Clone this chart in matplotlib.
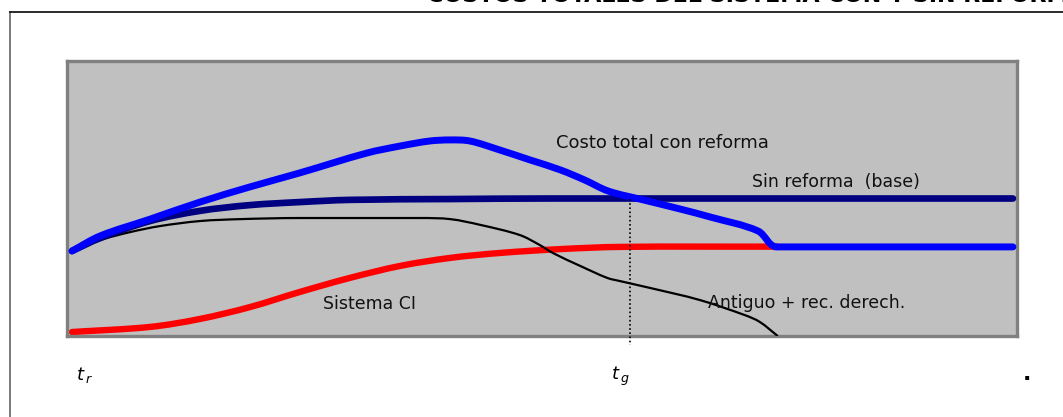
import numpy as np
import matplotlib.pyplot as plt
from matplotlib.lines import Line2D
from matplotlib.path import Path
from matplotlib.patches import PathPatch

# time axis runs from t_r (0) to the end of the horizon (100)
t_blue = [0, 3.0, 8.3, 13.6, 18.9, 24.2, 31.3, 34.9, 38.0, 40.2, 42.3, 45.5,
          48.7, 51.9, 54.5, 57.0, 60.7, 64.6, 67.8, 72.9, 74.9, 100]
costo_reforma = [30.9, 36.4, 42.5, 48.7, 54.2, 59.3, 66.5, 69.1, 70.9, 71.3, 70.9, 67.6,
                 64.0, 60.4, 56.7, 52.7, 49.5, 46.2, 43.3, 38.2, 32.4, 32.4]

t_navy = [0, 3.0, 8.3, 13.6, 18.9, 24.2, 29.5, 40.2, 50.8, 100]
sin_reforma = [30.9, 35.6, 41.8, 45.5, 47.6, 48.7, 49.5, 49.8, 50.0, 50.0]

t_black = [0, 3.0, 6.2, 9.4, 13.6, 17.9, 24.2, 37.0, 40.2, 43.4, 47.6, 49.7,
           51.1, 54.0, 56.9, 58.2, 61.4, 66.7, 71.5, 73.1, 75.0]
antiguo = [30.9, 34.9, 37.8, 40.0, 41.8, 42.5, 42.9, 42.9, 42.5, 40.4, 36.7, 33.1,
           30.2, 25.5, 21.1, 20.0, 17.5, 13.1, 7.6, 5.1, 0.0]

t_red = [0, 8.3, 13.6, 18.9, 24.2, 29.5, 34.9, 40.2, 45.5, 51.9, 58.2, 74.9]
sistema_ci = [1.45, 3.3, 6.2, 10.5, 16.0, 21.1, 25.5, 28.4, 30.2, 31.6, 32.4, 32.5]

t_g = 59.3
titulo = "COSTOS TOTALES DEL SISTEMA CON Y SIN REFORMA"

# pixels per data unit, used so the smoothing works in screen proportions
SX, SY = 9.41, 2.75


def smooth_path(x, y):
    # cubic bezier through every point, tangents scaled by segment length;
    # points next to a flat stretch keep a horizontal tangent
    p = np.column_stack([np.asarray(x) * SX, np.asarray(y) * SY]).astype(float)
    n = len(p)
    d = np.zeros_like(p)
    for i in range(n):
        flat = (i + 1 < n and y[i + 1] == y[i]) or (i > 0 and y[i - 1] == y[i])
        if flat:
            d[i] = [1.0, 0.0]
            continue
        v = p[min(i + 1, n - 1)] - p[max(i - 1, 0)]
        d[i] = v / np.hypot(*v)
    verts = [p[0]]
    codes = [Path.MOVETO]
    for i in range(n - 1):
        L = np.hypot(*(p[i + 1] - p[i]))
        verts += [p[i] + d[i] * L / 3, p[i + 1] - d[i + 1] * L / 3, p[i + 1]]
        codes += [Path.CURVE4] * 3
    verts = np.array(verts) / [SX, SY]
    return Path(verts, codes)


def draw(ax, x, y, color, lw, z, cap="round"):
    patch = PathPatch(smooth_path(x, y), facecolor="none", edgecolor=color, lw=lw,
                      capstyle=cap, joinstyle="round", zorder=z)
    ax.add_patch(patch)


W, H = 1063, 417
fig = plt.figure(figsize=(W / 100, H / 100), dpi=100)
ax = fig.add_axes([67 / W, (H - 336) / H, 950 / W, 275 / H])
ax.set_facecolor("#C0C0C0")
ax.set_xlim(-0.53, 100.43)
ax.set_ylim(0, 100)
ax.set_xticks([])
ax.set_yticks([])
for s in ax.spines.values():
    s.set_color("#808080")
    s.set_linewidth(2.4)

draw(ax, t_red, sistema_ci, "#FF0000", 4.6, 2)
draw(ax, t_black, antiguo, "black", 1.6, 3, cap="butt")
draw(ax, t_navy, sin_reforma, "#000080", 4.8, 4)
draw(ax, t_blue, costo_reforma, "#0000FF", 5.0, 5)

# vertical marker at t_g
ax.plot([t_g, t_g], [50, -3.3], color="black", lw=1.2, ls=(0, (1, 1.5)),
        clip_on=False, zorder=6)

lbl = dict(color="#111111", family="DejaVu Sans", va="baseline")
ax.text(51.4, 68.4, "Costo total con reforma", fontsize=13, **lbl)
ax.text(72.3, 54.2, "Sin reforma  (base)", fontsize=12.5, **lbl)
ax.text(26.7, 9.8, "Sistema CI", fontsize=12.5, **lbl)
ax.text(67.6, 10.2, "Antiguo + rec. derech.", fontsize=12.5, **lbl)

ax.text(0.4, -16, r"$t_{\,r}$", fontsize=13, va="baseline", clip_on=False)
ax.text(57.3, -16, r"$t_{\,g}$", fontsize=13, va="baseline", clip_on=False)
ax.text(101.0, -16, ".", fontsize=16, fontweight="bold", va="baseline", clip_on=False)

# outer chart frame and title
fig.add_artist(Line2D([10 / W, 10 / W], [0, 1 - 11.5 / H], color="#707070", lw=1.3))
fig.add_artist(Line2D([10 / W, 1], [1 - 11.5 / H, 1 - 11.5 / H], color="#1a1a1a", lw=1.3))
fig.text(427 / W, 1 - 2.5 / H, titulo, fontsize=16, fontweight="bold", va="baseline")

fig.savefig("out.png", dpi=100)
